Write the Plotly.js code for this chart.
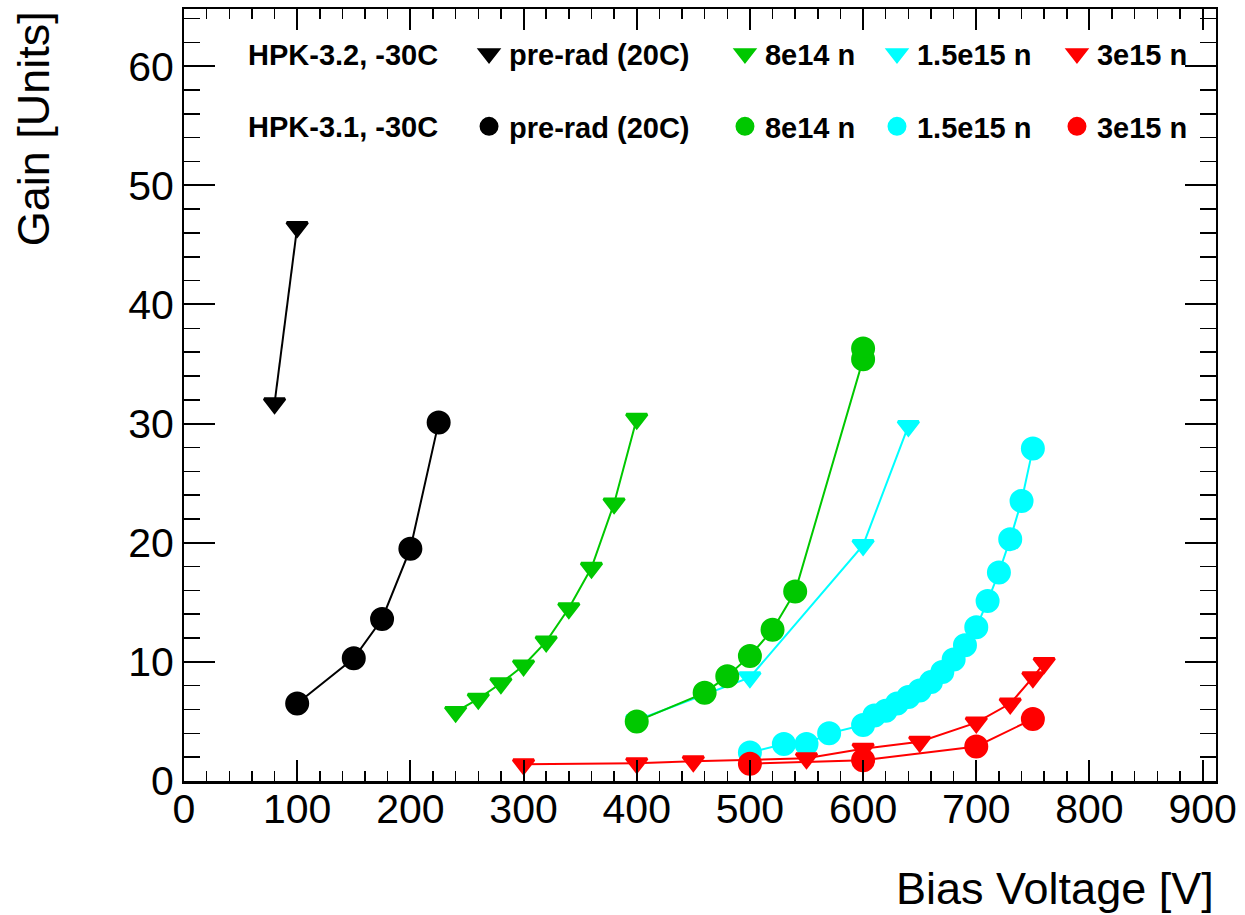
<!DOCTYPE html>
<html>
<head>
<meta charset="utf-8">
<script src="https://cdn.plot.ly/plotly-3.0.1.min.js"></script>
<style>html,body{margin:0;padding:0;background:#fff;}#chart{width:1245px;height:915px;}</style>
</head>
<body>
<div id="chart"></div>
<script>
// ---- Data (Bias Voltage [V], Gain) ----
// HPK-3.2, -30C (triangles)
var preRadTriV = [100, 80];
var preRadTriG = [46.5, 31.7];
var n8e14TriV = [240, 260, 280, 300, 320, 340, 360, 380, 400];
var n8e14TriG = [5.8, 6.9, 8.2, 9.7, 11.7, 14.5, 17.9, 23.3, 30.4];
var n15e15TriV = [400, 500, 600, 640];
var n15e15TriG = [5.1, 8.7, 19.8, 29.8];
var n3e15TriV = [300, 400, 450, 550, 600, 650, 700, 730, 750, 760];
var n3e15TriG = [1.4, 1.5, 1.65, 1.9, 2.7, 3.3, 4.9, 6.5, 8.7, 9.9];
// HPK-3.1, -30C (circles)
var preRadCircV = [100, 150, 175, 200, 225];
var preRadCircG = [6.5, 10.3, 13.6, 19.5, 30.1];
var n8e14CircV = [400, 460, 480, 500, 520, 540, 600, 600];
var n8e14CircG = [5.0, 7.4, 8.8, 10.5, 12.7, 15.9, 35.4, 36.3];
var n15e15CircV = [500, 530, 550, 570, 600, 610, 620, 630, 640, 650, 660, 670, 680, 690, 700, 710, 720, 730, 740, 750];
var n15e15CircG = [2.4, 3.1, 3.1, 4.0, 4.7, 5.5, 5.9, 6.5, 7.05, 7.6, 8.3, 9.15, 10.2, 11.4, 12.9, 15.1, 17.5, 20.3, 23.5, 27.9];
var n3e15CircV = [500, 600, 700, 750];
var n3e15CircG = [1.45, 1.75, 2.9, 5.2];

var seriesNames = ['pre-rad (20C)', '8e14 n', '1.5e15 n', '3e15 n'];
var rowLabels = ['HPK-3.2, -30C', 'HPK-3.1, -30C'];
var xTitle = 'Bias Voltage [V]';
var yTitle = 'Gain [Units]';

var colors = ['#000000', '#00c800', '#00ffff', '#ff0000'];
var legendIds = ['legend', 'legend2', 'legend3', 'legend4'];
var TRI_SIZE = 18, CIRC_SIZE = 21, MLW = 3, LW = 2;

function series(xv, yv, col, sym, size, name, legendId, group) {
  return [
    {x: xv, y: yv, type: 'scatter', mode: 'lines', line: {color: colors[col], width: LW},
     showlegend: false, hoverinfo: 'skip'},
    {x: xv, y: yv, type: 'scatter', mode: 'markers', name: name,
     marker: {color: colors[col], symbol: sym, size: size, line: {width: MLW, color: colors[col]}},
     legend: legendId, legendgroup: group, showlegend: true}
  ];
}

var data = [].concat(
  series(preRadTriV, preRadTriG, 0, 'triangle-down', TRI_SIZE, seriesNames[0], legendIds[0], 'tri'),
  series(preRadCircV, preRadCircG, 0, 'circle', CIRC_SIZE, seriesNames[0], legendIds[0], 'circ'),
  series(n8e14TriV, n8e14TriG, 1, 'triangle-down', TRI_SIZE, seriesNames[1], legendIds[1], 'tri'),
  series(n15e15TriV, n15e15TriG, 2, 'triangle-down', TRI_SIZE, seriesNames[2], legendIds[2], 'tri'),
  series(n8e14CircV, n8e14CircG, 1, 'circle', CIRC_SIZE, seriesNames[1], legendIds[1], 'circ'),
  series(n15e15CircV, n15e15CircG, 2, 'circle', CIRC_SIZE, seriesNames[2], legendIds[2], 'circ'),
  series(n3e15TriV, n3e15TriG, 3, 'triangle-down', TRI_SIZE, seriesNames[3], legendIds[3], 'tri'),
  series(n3e15CircV, n3e15CircG, 3, 'circle', CIRC_SIZE, seriesNames[3], legendIds[3], 'circ')
);

var FONT = 'Liberation Sans, Arial, Helvetica, sans-serif';
var legendFont = {family: FONT, size: 29, weight: 'bold', color: '#000'};
var legendX = [0.2762, 0.5242, 0.6715, 0.8459];
function mkLegend(i) {
  return {x: legendX[i], y: 0.975, xanchor: 'left', yanchor: 'top', orientation: 'v',
    bgcolor: 'rgba(0,0,0,0)', borderwidth: 0, font: legendFont, tracegroupgap: 32,
    traceorder: 'grouped', itemclick: false, itemdoubleclick: false};
}

var layout = {
  width: 1245, height: 915,
  margin: {l: 184, r: 29, t: 9, b: 134, pad: 0},
  paper_bgcolor: '#fff', plot_bgcolor: '#fff',
  showlegend: true,
  legend: mkLegend(0), legend2: mkLegend(1), legend3: mkLegend(2), legend4: mkLegend(3),
  xaxis: {
    range: [0, 911.8], tick0: 0, dtick: 100, ticks: 'inside', ticklen: 21, tickwidth: 2,
    tickcolor: '#000', showline: true, linecolor: '#000', linewidth: 2.5, mirror: 'allticks',
    showgrid: false, zeroline: false, ticklabelstandoff: -10,
    tickfont: {family: FONT, size: 41, color: '#000'},
    minor: {dtick: 20, ticks: 'inside', ticklen: 10, tickwidth: 1.5, tickcolor: '#000', showgrid: false}
  },
  yaxis: {
    range: [0, 64.8], tick0: 0, dtick: 10, ticks: 'inside', ticklen: 31, tickwidth: 2,
    tickcolor: '#000', showline: true, linecolor: '#000', linewidth: 2, mirror: 'allticks',
    showgrid: false, zeroline: false, ticklabelstandoff: 0,
    tickfont: {family: FONT, size: 41, color: '#000'},
    minor: {dtick: 2, ticks: 'inside', ticklen: 16, tickwidth: 1.5, tickcolor: '#000', showgrid: false}
  },
  annotations: [
    {text: rowLabels[0], xref: 'paper', yref: 'paper', x: 0.0601, y: 0.9408, xanchor: 'left', yanchor: 'middle',
     showarrow: false, font: legendFont},
    {text: rowLabels[1], xref: 'paper', yref: 'paper', x: 0.0601, y: 0.8473, xanchor: 'left', yanchor: 'middle',
     showarrow: false, font: legendFont},
    {text: xTitle, xref: 'paper', yref: 'paper', x: 1.0, y: -0.1393, xanchor: 'right', yanchor: 'middle',
     showarrow: false, font: {family: FONT, size: 45, color: '#000'}},
    {text: yTitle, xref: 'paper', yref: 'paper', x: -0.1463, y: 0.999, xanchor: 'center', yanchor: 'top',
     textangle: -90, showarrow: false, font: {family: FONT, size: 45, color: '#000'}}
  ]
};

Plotly.newPlot('chart', data, layout, {displayModeBar: false, staticPlot: true});
</script>
</body>
</html>
